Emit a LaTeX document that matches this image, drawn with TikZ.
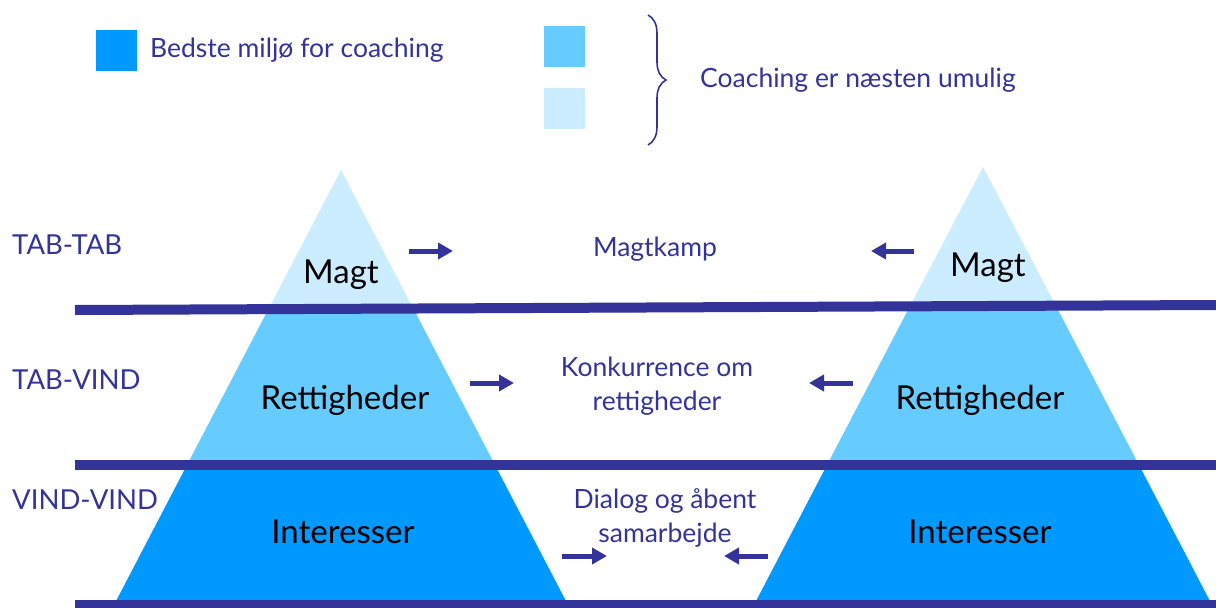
\documentclass[tikz,border=0pt]{standalone}
\usepackage{fontspec}
\setmainfont{Lato}
\usetikzlibrary{arrows.meta,decorations.pathreplacing}
\definecolor{navy}{HTML}{333399}
\definecolor{lightb}{HTML}{CCECFF}
\definecolor{midb}{HTML}{66CCFF}
\definecolor{darkb}{HTML}{0099FF}
\tikzset{
  navytext/.style={text=navy,font=\fontsize{26.5}{34}\selectfont,inner sep=0pt,align=center},
  levellabel/.style={text=navy,font=\fontsize{27.5}{33}\selectfont,inner sep=0pt,anchor=west},
  legendtext/.style={text=navy,font=\fontsize{26.5}{32}\selectfont,inner sep=0pt,anchor=west},
  blacklabel/.style={text=black,font=\fontsize{33}{40}\selectfont,inner sep=0pt},
  levelline/.style={draw=navy,line width=10pt},
  bigarrow/.style={draw=navy,line width=5pt,-{Triangle[length=15pt,width=16pt]}},
  swatch/.style={inner sep=0pt,minimum size=41pt,draw=none}
}
\begin{document}
\begin{tikzpicture}[x=1pt,y=-1pt]
\useasboundingbox (0,0) rectangle (1216,608);
% left pyramid
\fill[lightb] (341,170) -- (413,308) -- (269,308) -- cycle;
\fill[midb] (269,308) -- (413,308) -- (495,465) -- (187,465) -- cycle;
\fill[darkb] (187,465) -- (495,465) -- (567,603) -- (115,603) -- cycle;
% right pyramid
\fill[lightb] (983,167) -- (1057,308) -- (909,308) -- cycle;
\fill[midb] (909,308) -- (1057,308) -- (1139,465) -- (827,465) -- cycle;
\fill[darkb] (827,465) -- (1139,465) -- (1211,603) -- (755,603) -- cycle;
% level lines
\draw[levelline] (75,310) -- (1216,305);
\draw[levelline] (75,465) -- (1216,465);
\draw[levelline] (75,605) -- (1216,605);
% legend
\node[swatch,fill=darkb] (sw1) at (116.5,50.5) {};
\node[legendtext] (leg1) at (150,50) {Bedste miljø for coaching};
\node[swatch,fill=midb] (sw2) at (564.5,46.5) {};
\node[swatch,fill=lightb] (sw3) at (564.5,108.5) {};
\coordinate (brtop) at (648,15);
\coordinate (brbot) at (648,145);
\draw[navy,line width=1.6pt,decorate,decoration={brace,amplitude=18pt}] (brtop) -- (brbot);
\node[legendtext] (leg2) at (700,80) {Coaching er næsten umulig};
% level labels
\node[levellabel] (l1) at (12,245) {TAB-TAB};
\node[levellabel] (l2) at (12,380) {TAB-VIND};
\node[levellabel] (l3) at (12,500) {VIND-VIND};
% pyramid labels
\node[blacklabel] (m1) at (341,275) {Magt};
\node[blacklabel] (m2) at (988,268) {Magt};
\node[blacklabel] (r1) at (345,400) {Rettigheder};
\node[blacklabel] (r2) at (980,400) {Rettigheder};
\node[blacklabel] (i1) at (343,532) {Interesser};
\node[blacklabel] (i2) at (980,532) {Interesser};
% middle texts
\node[navytext] (t1) at (655,249) {Magtkamp};
\node[navytext] (t2) at (657,386) {Konkurrence om\\rettigheder};
\node[navytext] (t3) at (665,518) {Dialog og åbent\\samarbejde};
% arrows
\coordinate (a1s) at (409,251); \coordinate (a1e) at (453,251);
\coordinate (a2s) at (914,251); \coordinate (a2e) at (871,251);
\coordinate (a3s) at (470,383); \coordinate (a3e) at (514,383);
\coordinate (a4s) at (853,383); \coordinate (a4e) at (809,383);
\coordinate (a5s) at (562,556); \coordinate (a5e) at (607,556);
\coordinate (a6s) at (768,556); \coordinate (a6e) at (724,556);
\draw[bigarrow] (a1s) -- (a1e);
\draw[bigarrow] (a2s) -- (a2e);
\draw[bigarrow] (a3s) -- (a3e);
\draw[bigarrow] (a4s) -- (a4e);
\draw[bigarrow] (a5s) -- (a5e);
\draw[bigarrow] (a6s) -- (a6e);
\end{tikzpicture}
\end{document}
